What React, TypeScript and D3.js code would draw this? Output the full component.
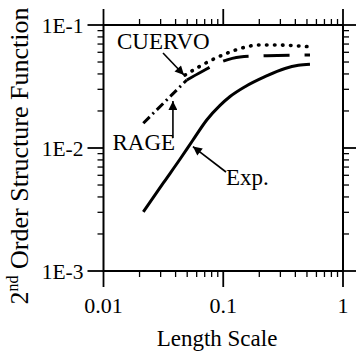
import React from "react";
import * as d3 from "d3";

const W = 356;
const H = 353;

const xTickVals = [0.01, 0.1, 1];
const xTickLabels = ["0.01", "0.1", "1"];
const yTickVals = [1e-3, 1e-2, 1e-1];
const yTickLabels = ["1E-3", "1E-2", "1E-1"];

const expX = [0.0215, 0.0316, 0.0435, 0.0555, 0.0728, 0.094, 0.114, 0.152, 0.223, 0.328, 0.424, 0.53];
const expY = [0.00303, 0.0052, 0.0081, 0.0115, 0.0169, 0.0222, 0.0262, 0.0315, 0.038, 0.0443, 0.047, 0.048];

const rageDashDotX = [0.0215, 0.0326, 0.0496];
const rageDashDotY = [0.0159, 0.0238, 0.0357];
const rageDashX = [0.0496, 0.066, 0.0957, 0.138, 0.232, 0.53];
const rageDashY = [0.0357, 0.0417, 0.05, 0.055, 0.0563, 0.057];

const cuervoX = [0.048, 0.08, 0.107, 0.152, 0.195, 0.27, 0.51];
const cuervoY = [0.0392, 0.0519, 0.0589, 0.066, 0.0688, 0.0688, 0.0667];

const labels = ["CUERVO", "RAGE", "Exp."];
const labelX = [0.01297, 0.0119, 0.1054];
const labelY = [0.0638, 0.00964, 0.005];
const labelW = [96, 62, 43];
const arrowFromX = [0.0314, 0.038, 0.1054];
const arrowFromY = [0.0592, 0.01205, 0.00638];
const arrowToX = [0.047, 0.038, 0.0558];
const arrowToY = [0.0392, 0.0241, 0.01028];

const margin = { left: 103.5, right: 13, top: 25, bottom: 82 };
const FONT = "'Liberation Serif', 'DejaVu Serif', serif";

export default function App() {
  const x = d3.scaleLog().domain([0.01, 1]).range([margin.left, W - margin.right]);
  const y = d3.scaleLog().domain([1e-3, 1e-1]).range([H - margin.bottom, margin.top]);
  const [x0, x1] = x.range();
  const [y0, y1] = [y(1e-3), y(1e-1)];

  const line = d3
    .line<[number, number]>()
    .x((d) => x(d[0]))
    .y((d) => y(d[1]))
    .curve(d3.curveMonotoneX);

  const zip = (a: number[], b: number[]) => a.map((v, i) => [v, b[i]] as [number, number]);

  const minorX: number[] = [];
  for (const dec of [0.01, 0.1]) for (let k = 2; k <= 9; k++) minorX.push(dec * k);
  const minorY: number[] = [];
  for (const dec of [0.001, 0.01]) for (let k = 2; k <= 9; k++) minorY.push(dec * k);

  const MAJ = 16;
  const MIN = 6;
  const ts = { fontFamily: FONT };

  return (
    <svg width={W} height={H} style={{ position: "absolute", left: 0, top: 0, background: "#fff" }}>
      <defs>
        <marker
          id="ah"
          viewBox="0 0 10 10"
          refX="10"
          refY="5"
          markerWidth="11"
          markerHeight="9"
          markerUnits="userSpaceOnUse"
          orient="auto"
        >
          <path d="M0,0 L10,5 L0,10 Z" fill="#000" />
        </marker>
      </defs>
      <rect x={0} y={0} width={W} height={H} fill="#fff" />

      <rect x={x0} y={y1} width={x1 - x0} height={y0 - y1} fill="none" stroke="#000" strokeWidth={2} />

      {xTickVals.map((v) => (
        <g key={"xt" + v}>
          <line x1={x(v)} x2={x(v)} y1={y0} y2={y0 + MAJ} stroke="#000" strokeWidth={1.8} />
          <line x1={x(v)} x2={x(v)} y1={y1} y2={y1 - MAJ} stroke="#000" strokeWidth={1.8} />
        </g>
      ))}
      {minorX.map((v) => (
        <g key={"xm" + v}>
          <line x1={x(v)} x2={x(v)} y1={y0} y2={y0 + MIN} stroke="#000" strokeWidth={1.3} />
          <line x1={x(v)} x2={x(v)} y1={y1} y2={y1 - MIN} stroke="#000" strokeWidth={1.3} />
        </g>
      ))}
      {yTickVals.map((v) => (
        <g key={"yt" + v}>
          <line x1={x0} x2={x0 - MAJ} y1={y(v)} y2={y(v)} stroke="#000" strokeWidth={1.8} />
          <line x1={x1} x2={x1 + MAJ} y1={y(v)} y2={y(v)} stroke="#000" strokeWidth={1.8} />
        </g>
      ))}
      {minorY.map((v) => (
        <g key={"ym" + v}>
          <line x1={x0} x2={x0 - MIN} y1={y(v)} y2={y(v)} stroke="#000" strokeWidth={1.3} />
          <line x1={x1} x2={x1 + MIN} y1={y(v)} y2={y(v)} stroke="#000" strokeWidth={1.3} />
        </g>
      ))}

      {xTickVals.map((v, i) => (
        <text key={"xl" + v} x={x(v)} y={y0 + 42} fontSize={22} textAnchor="middle" style={ts}>
          {xTickLabels[i]}
        </text>
      ))}
      {yTickVals.map((v, i) => (
        <text key={"yl" + v} x={x0 - 20} y={y(v) + 7.5} fontSize={21.5} textAnchor="end" style={ts}>
          {yTickLabels[i]}
        </text>
      ))}

      <text x={217} y={346} fontSize={23} textAnchor="middle" style={ts}>
        Length Scale
      </text>
      <text transform={`translate(28,${156}) rotate(-90)`} fontSize={26} textAnchor="middle" style={ts}>
        2<tspan fontSize={16} dy={-10}>nd</tspan>
        <tspan dy={10}> Order Structure Function</tspan>
      </text>

      <path d={line(zip(expX, expY)) || ""} fill="none" stroke="#000" strokeWidth={3} />
      <path
        d={line(zip(rageDashDotX, rageDashDotY)) || ""}
        fill="none"
        stroke="#000"
        strokeWidth={3}
        strokeDasharray="9,4,2,4"
      />
      <path
        d={line(zip(rageDashX, rageDashY)) || ""}
        fill="none"
        stroke="#000"
        strokeWidth={3}
        strokeDasharray="26,15"
      />
      <path
        d={line(zip(cuervoX, cuervoY)) || ""}
        fill="none"
        stroke="#000"
        strokeWidth={3.6}
        strokeLinecap="round"
        strokeDasharray="0.5,7.5"
      />

      {labels.map((t, i) => (
        <g key={"an" + t}>
          <text x={x(labelX[i])} y={y(labelY[i])} fontSize={23} style={ts}>
            {t}
          </text>
          <line
            x1={x(arrowFromX[i])}
            y1={y(arrowFromY[i])}
            x2={x(arrowToX[i])}
            y2={y(arrowToY[i])}
            stroke="#000"
            strokeWidth={1.6}
            markerEnd="url(#ah)"
          />
        </g>
      ))}
    </svg>
  );
}
